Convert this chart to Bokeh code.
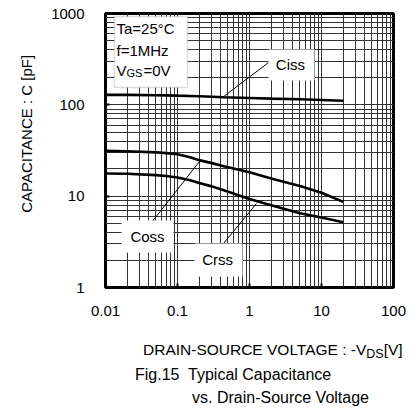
import math
from bokeh.plotting import figure
from bokeh.layouts import column
from bokeh.models import FixedTicker, CustomJSTickFormatter, Label, BoxAnnotation, Div
from bokeh.embed import file_html
from bokeh.resources import INLINE

# ---- data ----
vds = [0.01, 0.02, 0.05, 0.07, 0.1, 0.15, 0.2, 0.3, 0.44, 1, 2, 5, 10, 20]
ciss = [128.7, 128.5, 127.5, 127, 126, 125, 124, 122.5, 121, 119, 117, 115, 113, 111]
coss = [31.3, 31.0, 30.2, 29.6, 28.8, 26.6, 24.8, 23.0, 21.3, 18.3, 15.6, 12.9, 10.9, 8.66]
crss = [17.7, 17.6, 17.0, 16.6, 16.0, 14.9, 13.9, 12.8, 11.6, 9.3, 7.97, 6.5, 5.85, 5.19]

x_ticks = [0.01, 0.1, 1, 10, 100]
y_ticks = [1, 10, 100, 1000]

y_label = "CAPACITANCE : C [pF]"
x_label_main, x_label_sub, x_label_end = "DRAIN-SOURCE VOLTAGE : -V", "DS", "[V]"
caption1 = "Fig.15  Typical Capacitance"
caption2 = "vs. Drain-Source Voltage"

FONT = "Liberation Sans"

# frame placement (pixels)
FL, FR, FT, FB = 105, 393, 13, 287
W, H_MAIN, H_TXT = 417, 325, 85

p = figure(width=W, height=H_MAIN, x_axis_type="log", y_axis_type="log",
           x_range=(0.01, 100), y_range=(1, 1000),
           output_backend="svg", toolbar_location=None,
           min_border_left=FL, min_border_right=W - FR, min_border_top=FT,
           min_border_bottom=H_MAIN - FB)
p.background_fill_color = "white"
p.border_fill_color = "white"
p.outline_line_color = "black"
p.outline_line_width = 3

x_minor = [d * k for d in [0.01, 0.1, 1, 10] for k in range(2, 10)]
y_minor = [d * k for d in [1, 10, 100] for k in range(2, 10)]
p.xaxis.ticker = FixedTicker(ticks=x_ticks, minor_ticks=x_minor)
p.yaxis.ticker = FixedTicker(ticks=y_ticks, minor_ticks=y_minor)
fmt = CustomJSTickFormatter(code="return parseFloat(tick.toPrecision(6)).toString();")
for ax in (p.xaxis[0], p.yaxis[0]):
    ax.formatter = fmt
    ax.axis_line_color = None
    ax.major_tick_in = 4
    ax.major_tick_out = 0
    ax.major_tick_line_width = 2
    ax.major_tick_line_color = "black"
    ax.minor_tick_line_color = None
    ax.major_label_text_font = FONT
    ax.major_label_text_font_size = "15px"
    ax.major_label_text_color = "black"
p.xaxis.major_label_standoff = 14
p.yaxis.major_label_standoff = 17
p.yaxis.axis_label = "\u00a0" * 8 + y_label
p.yaxis.axis_label_text_font = FONT
p.yaxis.axis_label_text_font_size = "15px"
p.yaxis.axis_label_text_font_style = "normal"
p.yaxis.axis_label_text_color = "black"
p.yaxis.axis_label_standoff = 13

for g in (p.xgrid[0], p.ygrid[0]):
    g.grid_line_color = "#333333"
    g.grid_line_width = 1
    g.minor_grid_line_color = "#333333"
    g.minor_grid_line_width = 1

for series in (ciss, coss, crss):
    p.line(vds, series, line_color="black", line_width=2.6)

# leader lines
lead_x0 = [1.84, 0.0435, 0.435]
lead_y0 = [290.8, 5.15, 3.03]
lead_x1 = [0.42, 0.202, 1.25]
lead_y1 = [120.3, 23.97, 8.31]
p.segment(lead_x0, lead_y0, lead_x1, lead_y1, line_color="black", line_width=1)

# white label boxes
for (l, r, b, t) in [(1.84, 8.0, 184.7, 403.6), (0.0167, 0.088, 2.42, 5.41), (0.172, 0.80, 1.32, 3.03)]:
    p.add_layout(BoxAnnotation(left=l, right=r, bottom=b, top=t, fill_color="white",
                               fill_alpha=1, line_color=None))
p.add_layout(BoxAnnotation(left=0.0133, right=0.138, bottom=155, top=927, fill_color="white",
                           fill_alpha=1, line_color="#888888", line_width=1.5))

def lab(x, y, text, size="15px", align="left", **kw):
    p.add_layout(Label(x=x, y=y, text=text, text_font=FONT, text_font_size=size,
                       text_align=align, text_baseline="middle", text_color="black", **kw))

lab(3.7, 276.6, "Ciss", align="center")
lab(0.0383, 3.62, "Coss", align="center")
lab(0.36, 2.03, "Crss", align="center")

lab(0.0142, 685, "Ta=25°C")
lab(0.0142, 393.6, "f=1MHz")
lab(0.0142, 237.7, "V")
lab(0.0142, 237.7, "GS", size="11px", x_offset=10, y_offset=-3)
lab(0.0142, 237.7, "=0V", x_offset=27)

# ---- text strip below the chart: axis title with subscript and caption ----
html = f"""
<div style="position:relative;width:{W}px;height:{H_TXT}px;font-family:'Liberation Sans',Arial,sans-serif;color:#000;">
  <div style="position:absolute;left:143px;top:17.4px;font-size:15.5px;line-height:15.5px;white-space:nowrap;">{x_label_main}<span style="font-size:12.5px;position:relative;top:3px;">{x_label_sub}</span>{x_label_end}</div>
  <div style="position:absolute;left:135px;top:42.2px;font-size:16px;line-height:16px;white-space:pre;">{caption1}</div>
  <div style="position:absolute;left:192px;top:64.7px;font-size:16px;line-height:16px;white-space:pre;">{caption2}</div>
</div>
"""
d = Div(text=html, width=W, height=H_TXT, margin=0)

open("out.html", "w").write(file_html(column(p, d, spacing=0), INLINE))
